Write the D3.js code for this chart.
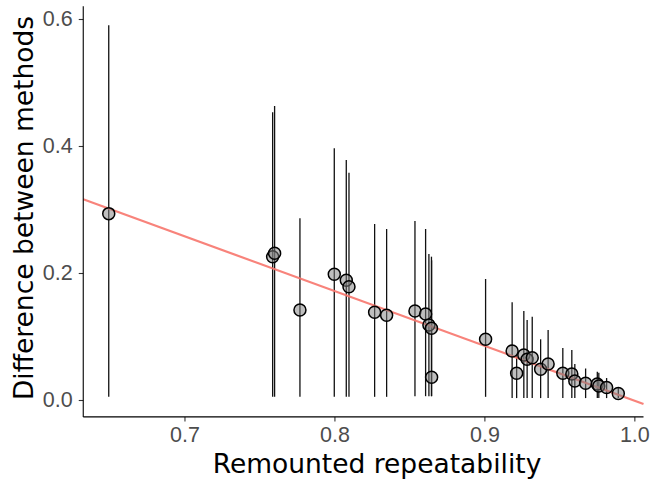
<!DOCTYPE html>
<html><head><meta charset="utf-8">
<script src="https://cdn.jsdelivr.net/npm/d3@7"></script>
<style>body{margin:0;background:#fff}</style>
</head><body>
<svg id="chart" width="651" height="481"></svg>
<script>
// Data
const repeatability = [0.6495,0.7588,0.7601,0.7770,0.7999,0.8079,0.8097,0.8268,0.8348,0.8537,0.8608,0.8630,0.8647,0.8648,0.9008,0.9185,0.9215,0.9263,0.9285,0.9319,0.9375,0.9425,0.9523,0.9583,0.9603,0.9675,0.9753,0.9763,0.9815,0.9893];
const difference    = [0.2935,0.2257,0.2310,0.1417,0.1980,0.1885,0.1784,0.1381,0.1334,0.1402,0.1354,0.1181,0.1129,0.0357,0.0956,0.0772,0.0420,0.0709,0.0641,0.0666,0.0483,0.0567,0.0420,0.0410,0.0300,0.0263,0.0252,0.0220,0.0197,0.0102];
const lower         = [0.005,0.005,0.005,0.005,0.005,0.005,0.005,0.005,0.005,0.006,0.006,0.006,0.006,0.006,0.005,0.003,0.003,0.003,0.003,0.003,0.003,0.003,0.003,0.003,0.003,0.003,0.003,0.003,0.003,0.003];
const upper         = [0.5900,0.4531,0.4630,0.2861,0.3964,0.3780,0.3580,0.2772,0.2693,0.2819,0.2693,0.2299,0.2257,0.2200,0.1906,0.1539,0.0700,0.1402,0.1260,0.1312,0.0956,0.1102,0.0819,0.0787,0.0567,0.0496,0.0446,0.0430,0.0346,0.0200];
const fitIntercept = 0.862;
const fitSlope = -0.863;
const xTicks = [0.7, 0.8, 0.9, 1.0];
const yTicks = [0.0, 0.2, 0.4, 0.6];

const svg = d3.select("#chart");
const x = d3.scaleLinear().domain([0.6325, 1.0061]).range([83.25, 643.5]);
const y = d3.scaleLinear().domain([-0.0266, 0.62]).range([400 + 0.0266*635, 400 - 0.62*635]);

const pts = repeatability.map((r,i)=>({x:r,y:difference[i],lo:lower[i],hi:upper[i]}));

// error bars
svg.append("g").selectAll("line").data(pts).join("line")
  .attr("x1",d=>x(d.x)).attr("x2",d=>x(d.x))
  .attr("y1",d=>y(d.lo)).attr("y2",d=>y(d.hi))
  .attr("stroke","#111").attr("stroke-width",1.3);

// fit line
const xd = x.domain();
svg.append("line")
  .attr("x1",x(xd[0])).attr("x2",x(xd[1]))
  .attr("y1",y(fitIntercept+fitSlope*xd[0])).attr("y2",y(fitIntercept+fitSlope*xd[1]))
  .attr("stroke","#F8766D").attr("stroke-width",2.2).attr("opacity",0.9);

// points
svg.append("g").selectAll("circle").data(pts).join("circle")
  .attr("cx",d=>x(d.x)).attr("cy",d=>y(d.y)).attr("r",6)
  .attr("fill","rgba(128,128,128,0.5)").attr("stroke","#000").attr("stroke-width",1.5);

// axes
const x0 = x.range()[0], x1 = x.range()[1], yb = y.range()[0], yt = y.range()[1];
const xAxis = svg.append("g").attr("transform",`translate(0,${yb})`)
  .call(d3.axisBottom(x).tickValues(xTicks).tickFormat(d3.format(".1f")).tickSizeOuter(0).tickSize(4.5).tickPadding(5.5));
const yAxis = svg.append("g").attr("transform",`translate(${x0},0)`)
  .call(d3.axisLeft(y).tickValues(yTicks).tickFormat(d3.format(".1f")).tickSizeOuter(0).tickSize(4.5).tickPadding(6));
[xAxis,yAxis].forEach(a=>{
  a.select(".domain").remove();
  a.selectAll(".tick line").attr("stroke","#333").attr("stroke-width",1.1);
  a.selectAll(".tick text").attr("fill","#4d4d4d").style("font-family","'Liberation Sans', Arial, sans-serif").style("font-size","21.5px");
});
svg.append("line").attr("x1",x0).attr("x2",x1).attr("y1",yb).attr("y2",yb).attr("stroke","#000").attr("stroke-width",1.1);
svg.append("line").attr("x1",x0).attr("x2",x0).attr("y1",yb).attr("y2",yt).attr("stroke","#000").attr("stroke-width",1.1);

// titles
svg.append("text").attr("x",377).attr("y",472.5).attr("text-anchor","middle")
  .style("font-family","'DejaVu Sans', sans-serif").style("font-size","26.5px").attr("fill","#000")
  .text("Remounted repeatability");
svg.append("text").attr("transform","translate(33.3,208) rotate(-90)").attr("text-anchor","middle")
  .style("font-family","'DejaVu Sans', sans-serif").style("font-size","26.5px").attr("fill","#000")
  .text("Difference between methods");
</script>
</body></html>
